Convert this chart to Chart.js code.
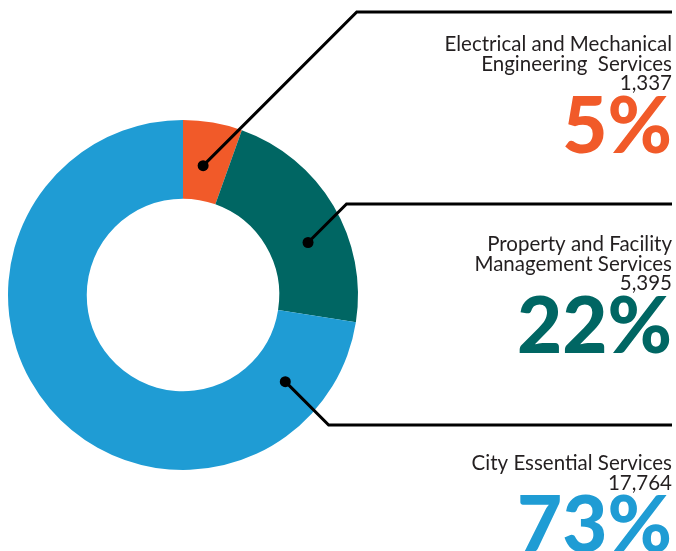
<!DOCTYPE html>
<html>
<head>
<meta charset="utf-8">
<script src="https://cdn.jsdelivr.net/npm/chart.js@4"></script>
<style>
  html, body { margin: 0; padding: 0; background: #ffffff; }
  #wrap { width: 676px; height: 551px; }
</style>
</head>
<body>
<div id="wrap"><canvas id="services-donut" width="676" height="551"></canvas></div>
<script>
// data
const categories = [
    ["Electrical and Mechanical", "Engineering  Services"],
    ["Property and Facility", "Management Services"],
    ["City Essential Services"]
];
const values = [1337, 5395, 17764];
const colours = ["#F15A29", "#006663", "#1F9CD4"];

// where each dot sits inside its slice (fraction along the arc, fraction across the ring)
const dotAlong = [0.45, 0.6, 0.12];
const dotAcross = [0.44, 0.5, 0.48];
// y of the horizontal part of each leader line, and gap down to the first text baseline
const elbowY = [12, 204, 425];
const textGap = [39, 47, 45];

const total = values.reduce((a, b) => a + b, 0);

const leaderPlugin = {
    id: "leaders",
    afterDraw(chart) {
        const ctx = chart.ctx;
        const arcs = chart.getDatasetMeta(0).data;
        const right = 672;
        ctx.save();

        arcs.forEach((arc, i) => {
            const p = arc.getProps(["x", "y", "startAngle", "endAngle", "innerRadius", "outerRadius"], true);
            const ang = p.startAngle + (p.endAngle - p.startAngle) * dotAlong[i];
            const r = p.innerRadius + (p.outerRadius - p.innerRadius) * dotAcross[i];
            const dx = p.x + Math.cos(ang) * r;
            const dy = p.y + Math.sin(ang) * r;
            const ex = dx + Math.abs(dy - elbowY[i]); // 45 degree leg

            ctx.strokeStyle = "#000";
            ctx.lineWidth = 3;
            ctx.beginPath();
            ctx.moveTo(dx, dy);
            ctx.lineTo(ex, elbowY[i]);
            ctx.lineTo(right, elbowY[i]);
            ctx.stroke();

            ctx.fillStyle = "#000";
            ctx.beginPath();
            ctx.arc(dx, dy, 5.5, 0, Math.PI * 2);
            ctx.fill();

            // text block under the line
            const lines = categories[i].concat([values[i].toLocaleString("en-US")]);
            let y = elbowY[i] + textGap[i];
            ctx.textAlign = "right";
            ctx.textBaseline = "alphabetic";
            ctx.fillStyle = "#231F20";
            ctx.font = "20.5px Lato";
            lines.forEach((t) => {
                ctx.fillText(t, right, y);
                y += 19.5;
            });
            ctx.fillStyle = colours[i];
            ctx.font = "900 78px Lato";
            ctx.fillText(Math.round(values[i] / total * 100) + "%", right, y + 43);
        });

        ctx.restore();
    }
};

new Chart("services-donut", {
    type: "doughnut",
    data: {
        labels: categories.map(c => c.join(" ")),
        datasets: [{
            data: values,
            backgroundColor: colours,
            borderWidth: 0
        }]
    },
    options: {
        responsive: false,
        animation: false,
        cutout: "55%",
        layout: {
            padding: { left: 8, right: 318, top: 120, bottom: 81 }
        },
        plugins: {
            legend: { display: false },
            tooltip: { enabled: false }
        }
    },
    plugins: [leaderPlugin]
});
</script>
</body>
</html>
